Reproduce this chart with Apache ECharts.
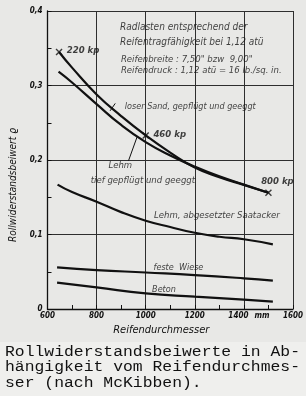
<!DOCTYPE html>
<html>
<head>
<meta charset="utf-8">
<script src="https://cdn.jsdelivr.net/npm/echarts@6/dist/echarts.min.js"></script>
<style>
html,body{margin:0;padding:0;background:#e8e8e6;}
#c{width:306px;height:396px;}
</style>
</head>
<body>
<div id="c"></div>
<script>
// ---- data ----
const xTicks = [600, 800, 1000, 1200, 1400, 1600];
const yTicks = [0, 0.1, 0.2, 0.3, 0.4];

const diaSand = [647, 700, 800, 900, 1000, 1100, 1200, 1300, 1400, 1500];
const rhoSand = [0.345, 0.324, 0.288, 0.259, 0.233, 0.210, 0.190, 0.177, 0.1665, 0.156];

const diaLehmTief = [645, 700, 800, 900, 1000, 1100, 1200, 1300, 1400, 1500];
const rhoLehmTief = [0.3185, 0.304, 0.275, 0.247, 0.224, 0.206, 0.191, 0.178, 0.167, 0.156];

const diaSaat = [641, 700, 800, 900, 1000, 1100, 1200, 1300, 1400, 1518];
const rhoSaat = [0.167, 0.157, 0.144, 0.130, 0.1185, 0.110, 0.1024, 0.097, 0.0936, 0.0868];

const diaWiese = [639, 800, 1000, 1200, 1400, 1518];
const rhoWiese = [0.056, 0.0523, 0.049, 0.0456, 0.0412, 0.038];

const diaBeton = [639, 800, 1000, 1200, 1400, 1518];
const rhoBeton = [0.0353, 0.029, 0.021, 0.0165, 0.0125, 0.010];

const loadDia = [647, 1000, 1500];
const loadRho = [0.345, 0.233, 0.156];
const loadText = ['220 kp', '460 kp', '800 kp'];

const sandLeaderDia = [855, 876];
const sandLeaderRho = [0.266, 0.276];
const lehmLeaderDia = [930, 966];
const lehmLeaderRho = [0.199, 0.232];

const noteTexts = [
  'Radlasten entsprechend der',
  'Reifentragfähigkeit bei 1,12 atü',
  'Reifenbreite : 7,50" bzw  9,00"',
  'Reifendruck : 1,12 atü = 16 lb./sq. in.',
  'loser Sand, gepflügt und geeggt',
  'Lehm',
  'tief gepflügt und geeggt',
  'Lehm, abgesetzter Saatacker',
  'feste  Wiese',
  'Beton'
];
const captionLines = [
  'Rollwiderstandsbeiwerte in Ab-',
  'hängigkeit vom Reifendurchmes-',
  'ser (nach McKibben).'
];
const xName = 'Reifendurchmesser';
const yName = 'Rollwiderstandsbeiwert ϱ';

// ---- chart ----
const FONT = '"DejaVu Sans Condensed", "Liberation Sans Narrow", "DejaVu Sans", sans-serif';
const INK = '#111111';
const zip = (a, b) => a.map((v, i) => [v, b[i]]);

function curve(name, xs, ys) {
  return {
    name, type: 'line', data: zip(xs, ys), smooth: 0.5,
    symbol: 'none', lineStyle: { color: INK, width: 2.2 }, z: 3, silent: true
  };
}
function leader(xs, ys) {
  return {
    type: 'line', data: zip(xs, ys), symbol: 'none',
    lineStyle: { color: INK, width: 1 }, z: 3, silent: true
  };
}
function note(text, pos, size) {
  return {
    value: pos,
    label: {
      show: true, position: 'right', distance: 0, formatter: text,
      fontFamily: FONT, fontStyle: 'italic', fontWeight: 500, fontSize: size || 9, color: INK
    }
  };
}

const option = {
  backgroundColor: '#e8e8e6',
  animation: false,
  grid: { left: 47.5, right: 6, top: 11, bottom: 87 },
  xAxis: {
    type: 'value', min: xTicks[0], max: xTicks[xTicks.length - 1], interval: 200,
    name: xName, nameLocation: 'middle', nameGap: 14,
    nameTextStyle: { fontFamily: FONT, fontStyle: 'italic', fontSize: 11, color: INK, padding: [0, 18, 0, 0] },
    axisLine: { lineStyle: { color: INK, width: 1.3 } },
    axisTick: { show: true, inside: true, length: 4, lineStyle: { color: INK } },
    minorTick: { show: true, splitNumber: 2, length: 4, lineStyle: { color: INK, width: 1 } },
    splitLine: { show: true, lineStyle: { color: '#2e2e2e', width: 1 } },
    axisLabel: {
      margin: 3, fontFamily: FONT, fontStyle: 'italic', fontWeight: 'bold', fontSize: 8, color: INK,
      formatter: v => v === 1400 ? '{n|1400}{u|mm}' : (xTicks.includes(v) ? String(v) : ''),
      rich: {
        n: { fontFamily: FONT, fontStyle: 'italic', fontWeight: 'bold', fontSize: 8, color: INK, padding: [0, 0, 0, 10] },
        u: { fontFamily: FONT, fontStyle: 'italic', fontSize: 8, color: INK, padding: [0, 0, 0, 6] }
      }
    }
  },
  yAxis: {
    type: 'value', min: yTicks[0], max: yTicks[yTicks.length - 1], interval: 0.1,
    name: yName, nameLocation: 'middle', nameRotate: 90, nameGap: 27,
    nameTextStyle: { fontFamily: FONT, fontStyle: 'italic', fontSize: 10, color: INK, padding: [0, 50, 0, 0] },
    axisLine: { show: true, lineStyle: { color: INK, width: 1.3 } },
    axisTick: { show: true, inside: true, length: 4, lineStyle: { color: INK } },
    minorTick: { show: true, splitNumber: 2, length: 4, lineStyle: { color: INK, width: 1 } },
    splitLine: { show: true, lineStyle: { color: '#2e2e2e', width: 1 } },
    axisLabel: {
      margin: 5, fontFamily: FONT, fontStyle: 'italic', fontWeight: 'bold', fontSize: 8, color: INK,
      formatter: v => v === 0 ? '0' : v.toFixed(1).replace('.', ',')
    }
  },
  series: [
    curve('loser Sand', diaSand, rhoSand),
    curve('Lehm tief', diaLehmTief, rhoLehmTief),
    curve('Saatacker', diaSaat, rhoSaat),
    curve('feste Wiese', diaWiese, rhoWiese),
    curve('Beton', diaBeton, rhoBeton),
    leader(sandLeaderDia, sandLeaderRho),
    leader(lehmLeaderDia, lehmLeaderRho),
    {
      type: 'scatter', z: 4, silent: true,
      symbol: 'path://M0,0L10,10M10,0L0,10', symbolSize: 6,
      itemStyle: { color: 'rgba(0,0,0,0)', borderColor: INK, borderWidth: 1.4 },
      data: loadDia.map((d, i) => ({
        value: [d, loadRho[i]],
        label: {
          show: true, formatter: loadText[i],
          position: i === 2 ? 'top' : 'right', distance: i === 2 ? 3 : 4,
          offset: i === 2 ? [9, 0] : [0, -1],
          fontFamily: FONT, fontStyle: 'italic', fontWeight: 'bold', fontSize: 9.5, color: INK
        }
      }))
    },
    {
      type: 'scatter', z: 5, silent: true, symbolSize: 0,
      data: [
        note(noteTexts[0], [895, 0.3785], 10),
        note(noteTexts[1], [895, 0.3584], 10),
        note(noteTexts[2], [899, 0.3342], 9.5),
        note(noteTexts[3], [899, 0.3195], 9.5),
        note(noteTexts[4], [915, 0.271], 9),
        note(noteTexts[5], [848, 0.192], 9.5),
        note(noteTexts[6], [776, 0.173], 9.5),
        note(noteTexts[7], [1034, 0.126], 9.5),
        note(noteTexts[8], [1032, 0.0555], 9),
        note(noteTexts[9], [1026, 0.0264], 9)
      ]
    }
  ],
  graphic: [
    { type: 'rect', shape: { x: 0, y: 342, width: 306, height: 54 }, style: { fill: '#efefed' }, z: -10, silent: true }
  ].concat(captionLines.map((t, i) => ({
    type: 'text', x: 5, y: 352 + i * 15.6, scaleX: 1.13, silent: true,
    style: { text: t, fontFamily: '"Liberation Mono", "DejaVu Sans Mono", monospace', fontSize: 14.5, fill: '#111', verticalAlign: 'middle', textVerticalAlign: 'middle' }
  })))
};

const chart = echarts.init(document.getElementById('c'), null, { renderer: 'canvas' });
chart.setOption(option);
</script>
</body>
</html>
